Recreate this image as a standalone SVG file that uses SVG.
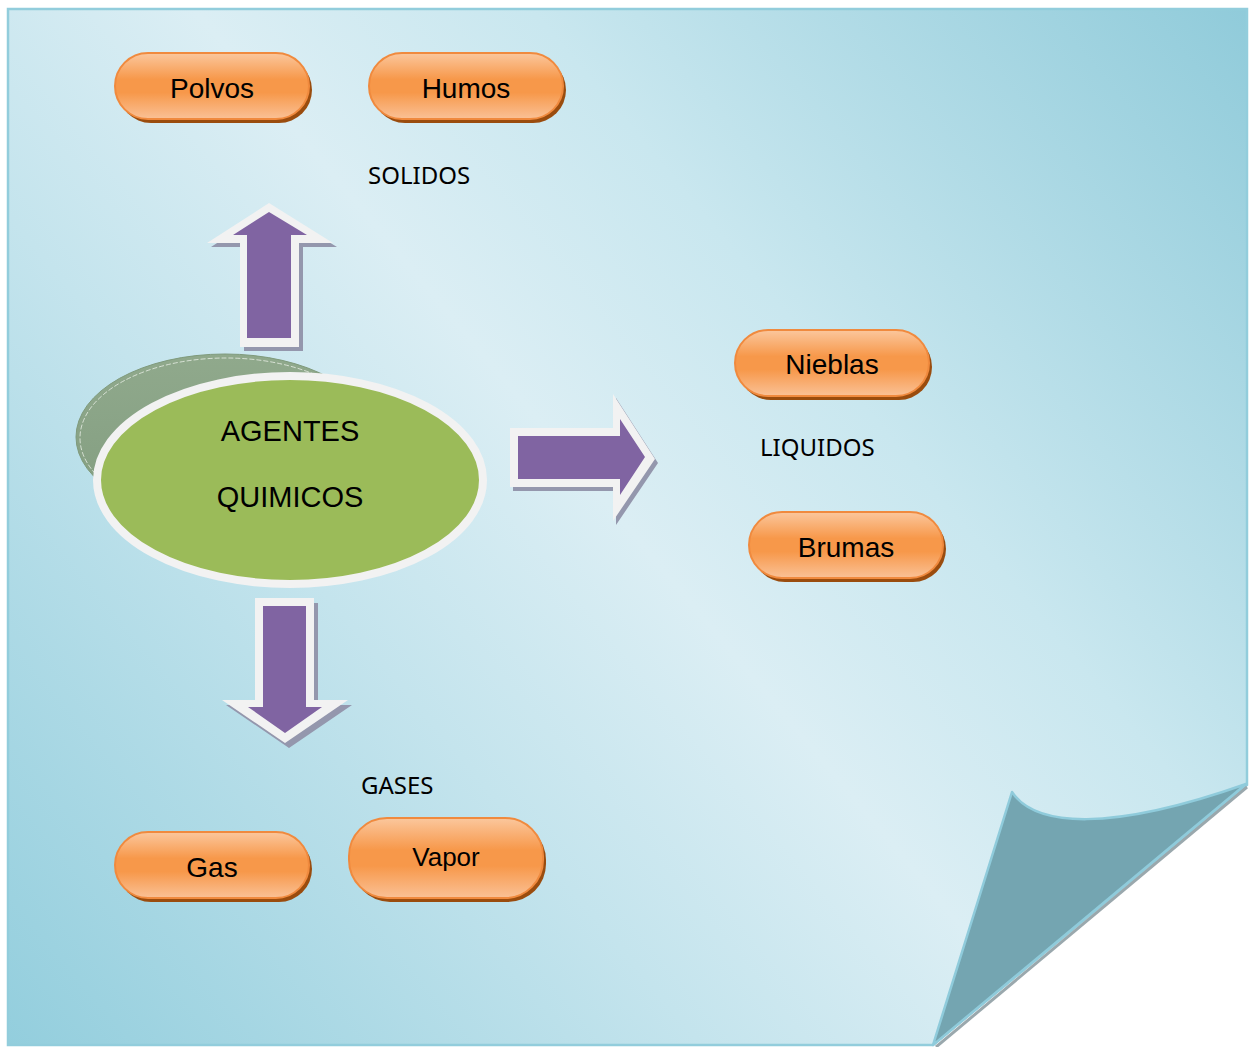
<svg xmlns="http://www.w3.org/2000/svg" width="1253" height="1047" viewBox="0 0 1253 1047">
  <defs>
    <linearGradient id="pageFill" gradientUnits="userSpaceOnUse" x1="8" y1="1045" x2="1247" y2="9">
      <stop offset="0" stop-color="#93cedd"/>
      <stop offset="0.33" stop-color="#c4e4ed"/>
      <stop offset="0.5" stop-color="#dbeef4"/>
      <stop offset="0.66" stop-color="#c9e7ef"/>
      <stop offset="1" stop-color="#90cbda"/>
    </linearGradient>
    <linearGradient id="pillFill" x1="0" y1="0" x2="0" y2="1">
      <stop offset="0" stop-color="#fbc79d"/>
      <stop offset="0.4" stop-color="#f7984a"/>
      <stop offset="0.6" stop-color="#f7984a"/>
      <stop offset="1" stop-color="#fac196"/>
    </linearGradient>
    <linearGradient id="shadowOval" x1="0" y1="0" x2="0" y2="1">
      <stop offset="0" stop-color="#90a98c"/>
      <stop offset="1" stop-color="#829d80"/>
    </linearGradient>
  </defs>
  <style>
    .pill { fill: url(#pillFill); stroke: #f08a3e; stroke-width: 2; }
    .pill-shadow { fill: #9a4c0e; }
    .pill-text { font-family: "Liberation Sans", Arial, sans-serif; font-size: 28px; fill: #000; text-anchor: middle; }
    .label { font-family: "Noto Sans", "Open Sans", sans-serif; font-size: 24px; fill: #000; }
    .arrow-shadow { fill: #9497ad; }
    .arrow-rim { fill: #f2f2f2; }
    .arrow-body { fill: #8064a2; }
    .oval-text { font-family: "Liberation Sans", Arial, sans-serif; font-size: 29px; fill: #000; text-anchor: middle; }
  </style>

  <rect width="1253" height="1047" fill="#ffffff"/>

  <!-- sheet with curled lower-right corner -->
  <g id="page">
    <path d="M8,9 H1247 V785 L933,1045 H8 Z" fill="url(#pageFill)" stroke="#92cddc" stroke-width="2.5"/>
    <path d="M1247,787 L936,1047" stroke="#9aa8ad" stroke-width="3" fill="none"/>
    <path d="M1012,792 C1035,827 1110,832 1246,784 L933,1045 Z" fill="#74a5b1" stroke="#8fcbdb" stroke-width="2.5" stroke-linejoin="round"/>
  </g>

  <!-- central node -->
  <g id="agentes-quimicos">
    <ellipse cx="225" cy="437" rx="149" ry="83" fill="url(#shadowOval)" stroke="#7f9a7c" stroke-width="1"/>
    <ellipse cx="226" cy="438" rx="146" ry="80" fill="none" stroke="#e8efe6" stroke-width="0.8" stroke-dasharray="5 2"/>
    <ellipse cx="290" cy="480" rx="193" ry="104" fill="#9bbb59" stroke="#f2f2f2" stroke-width="8"/>
    <text class="oval-text" x="290" y="441">AGENTES</text>
    <text class="oval-text" x="290" y="507">QUIMICOS</text>
  </g>

  <!-- block arrows -->
  <g id="connectors">
    <g id="arrow-up">
      <polygon class="arrow-shadow" points="272,207 337,247 303,247 303,351 244,351 244,247 211,247"/>
      <polygon class="arrow-rim" points="269,203 333,243 299,243 299,347 240,347 240,243 207,243"/>
      <polygon class="arrow-body" points="269,212 307,235 291,235 291,338 247,338 247,235 233,235"/>
    </g>
    <g id="arrow-right">
      <polygon class="arrow-shadow" points="513,432 616,432 616,398 658,463 616,525 616,491 513,491"/>
      <polygon class="arrow-rim" points="510,428 613,428 613,394 655,459 613,521 613,487 510,487"/>
      <polygon class="arrow-body" points="518,436 620,436 620,419 645,457 620,495 620,479 518,479"/>
    </g>
    <g id="arrow-down">
      <polygon class="arrow-shadow" points="259,603 318,603 318,705 352,705 289,748 226,705 259,705"/>
      <polygon class="arrow-rim" points="255,598 314,598 314,700 348,700 285,743 222,700 255,700"/>
      <polygon class="arrow-body" points="263,606 306,606 306,707 322,707 285,733 248,707 263,707"/>
    </g>
  </g>

  <!-- category labels -->
  <text class="label" x="368" y="184">SOLIDOS</text>
  <text class="label" x="760" y="456">LIQUIDOS</text>
  <text class="label" x="361" y="794">GASES</text>

  <!-- leaf nodes -->
  <g id="polvos">
    <rect class="pill-shadow" x="118" y="57" width="194" height="66" rx="33"/>
    <rect class="pill" x="115" y="53" width="194" height="66" rx="33"/>
    <text class="pill-text" x="212" y="98">Polvos</text>
  </g>
  <g id="humos">
    <rect class="pill-shadow" x="372" y="57" width="194" height="66" rx="33"/>
    <rect class="pill" x="369" y="53" width="194" height="66" rx="33"/>
    <text class="pill-text" x="466" y="98">Humos</text>
  </g>
  <g id="nieblas">
    <rect class="pill-shadow" x="738" y="334" width="194" height="66" rx="33"/>
    <rect class="pill" x="735" y="330" width="194" height="66" rx="33"/>
    <text class="pill-text" x="832" y="374">Nieblas</text>
  </g>
  <g id="brumas">
    <rect class="pill-shadow" x="752" y="516" width="194" height="66" rx="33"/>
    <rect class="pill" x="749" y="512" width="194" height="66" rx="33"/>
    <text class="pill-text" x="846" y="557">Brumas</text>
  </g>
  <g id="gas">
    <rect class="pill-shadow" x="118" y="836" width="194" height="66" rx="33"/>
    <rect class="pill" x="115" y="832" width="194" height="66" rx="33"/>
    <text class="pill-text" x="212" y="877">Gas</text>
  </g>
  <g id="vapor">
    <rect class="pill-shadow" x="352" y="822" width="194" height="80" rx="38"/>
    <rect class="pill" x="349" y="818" width="194" height="80" rx="38"/>
    <text class="pill-text" x="446" y="866" style="font-size:26px">Vapor</text>
  </g>
</svg>
